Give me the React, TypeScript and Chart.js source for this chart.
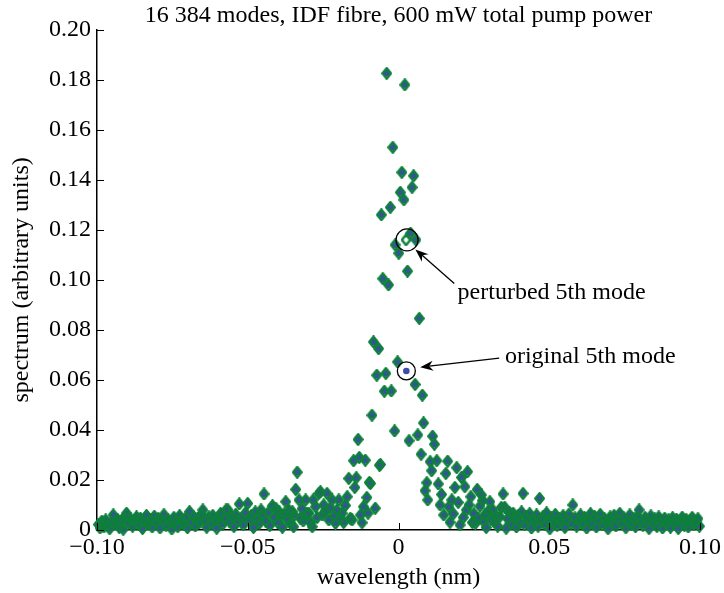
import React, { useEffect, useRef } from "react";
import { Chart, registerables } from "chart.js";

Chart.register(...registerables);

// ---- data ----
const titleText = "16 384 modes, IDF fibre, 600 mW total pump power";
const xAxisTitle = "wavelength (nm)";
const yAxisTitle = "spectrum (arbitrary units)";

const xTickValues = [-0.1, -0.05, 0, 0.05, 0.1];
const xTickLabels = ["\u22120.10", "\u22120.05", "0", "0.05", "0.10"];
const yTickValues = [0, 0.02, 0.04, 0.06, 0.08, 0.1, 0.12, 0.14, 0.16, 0.18, 0.2];
const yTickLabels = ["0", "0.02", "0.04", "0.06", "0.08", "0.10", "0.12", "0.14", "0.16", "0.18", "0.20"];

// wavelength (nm) of every mode except the 5th
const modeWavelength = [
  -0.0995, -0.0990, -0.0984, -0.0977, -0.0971, -0.0964, -0.0958, -0.0951, -0.0946, -0.0939,
  -0.0932, -0.0926, -0.0919, -0.0913, -0.0907, -0.0902, -0.0895, -0.0888, -0.0882, -0.0875,
  -0.0869, -0.0862, -0.0856, -0.0849, -0.0843, -0.0836, -0.0830, -0.0823, -0.0817, -0.0810,
  -0.0804, -0.0797, -0.0791, -0.0784, -0.0778, -0.0771, -0.0765, -0.0758, -0.0752, -0.0745,
  -0.0739, -0.0732, -0.0726, -0.0719, -0.0713, -0.0706, -0.0700, -0.0693, -0.0687, -0.0680,
  -0.0674, -0.0667, -0.0661, -0.0654, -0.0649, -0.0642, -0.0636, -0.0629, -0.0622, -0.0616,
  -0.0609, -0.0603, -0.0596, -0.0590, -0.0583, -0.0577, -0.0572, -0.0566, -0.0559, -0.0553,
  -0.0546, -0.0540, -0.0533, -0.0528, -0.0521, -0.0515, -0.0508, -0.0500, -0.0494, -0.0488,
  -0.0481, -0.0475, -0.0468, -0.0462, -0.0456, -0.0451, -0.0446, -0.0440, -0.0433, -0.0427,
  -0.0418, -0.0412, -0.0407, -0.0401, -0.0396, -0.0390, -0.0385, -0.0379, -0.0374, -0.0368,
  -0.0363, -0.0358, -0.0352, -0.0348, -0.0346, -0.0341, -0.0336, -0.0330, -0.0326, -0.0320,
  -0.0316, -0.0308, -0.0303, -0.0297, -0.0292, -0.0286, -0.0283, -0.0275, -0.0270, -0.0264,
  -0.0259, -0.0253, -0.0248, -0.0243, -0.0237, -0.0231, -0.0226, -0.0220, -0.0214, -0.0209,
  -0.0204, -0.0198, -0.0192, -0.0187, -0.0182, -0.0176, -0.0170, -0.0165, -0.0160, -0.0154,
  -0.0149, -0.0145, -0.0140, -0.0134, -0.0130, -0.0126, -0.0121, -0.0116, -0.0110, -0.0105,
  -0.0101, -0.0097, -0.0093, -0.0088, -0.0083, -0.0077, -0.0072, -0.0066, -0.0063, -0.0060,
  -0.0057, -0.0052, -0.0047, -0.0042, -0.0039, -0.0033, -0.0027, -0.0024, -0.0019, -0.0013,
  -0.0011, -0.0003, 0.0001, 0.0006, 0.0011, 0.0018, 0.0021, 0.0030, 0.0035, 0.0040,
  0.0045, 0.0050, 0.0055, 0.0058, 0.0064, 0.0069, 0.0075, 0.0079, 0.0083, 0.0088,
  0.0094, 0.0097, 0.0105, 0.0110, 0.0113, 0.0119, 0.0127, 0.0132, 0.0138, 0.0143,
  0.0150, 0.0157, 0.0163, 0.0167, 0.0171, 0.0177, 0.0182, 0.0187, 0.0193, 0.0198,
  0.0204, 0.0209, 0.0215, 0.0220, 0.0225, 0.0229, 0.0234, 0.0240, 0.0245, 0.0250,
  0.0255, 0.0261, 0.0264, 0.0270, 0.0275, 0.0279, 0.0281, 0.0286, 0.0291, 0.0297,
  0.0303, 0.0308, 0.0313, 0.0319, 0.0324, 0.0329, 0.0336, 0.0341, 0.0347, 0.0352,
  0.0357, 0.0362, 0.0368, 0.0374, 0.0380, 0.0386, 0.0391, 0.0397, 0.0402, 0.0408,
  0.0413, 0.0418, 0.0424, 0.0430, 0.0435, 0.0441, 0.0447, 0.0452, 0.0458, 0.0463,
  0.0468, 0.0474, 0.0480, 0.0485, 0.0491, 0.0497, 0.0502, 0.0508, 0.0514, 0.0520,
  0.0526, 0.0533, 0.0539, 0.0546, 0.0552, 0.0559, 0.0565, 0.0572, 0.0578, 0.0585,
  0.0591, 0.0598, 0.0604, 0.0611, 0.0617, 0.0624, 0.0630, 0.0637, 0.0643, 0.0650,
  0.0656, 0.0663, 0.0669, 0.0676, 0.0682, 0.0689, 0.0695, 0.0702, 0.0708, 0.0715,
  0.0721, 0.0728, 0.0734, 0.0741, 0.0747, 0.0754, 0.0760, 0.0767, 0.0773, 0.0780,
  0.0786, 0.0793, 0.0798, 0.0805, 0.0811, 0.0818, 0.0824, 0.0831, 0.0837, 0.0844,
  0.0850, 0.0857, 0.0863, 0.0870, 0.0876, 0.0883, 0.0889, 0.0896, 0.0902, 0.0909,
  0.0915, 0.0922, 0.0928, 0.0935, 0.0941, 0.0948, 0.0954, 0.0961, 0.0967, 0.0974,
  0.0980, 0.0987, 0.0993, 0.0998,
];

// spectrum of every mode except the 5th (identical in both runs)
const modeSpectrum = [
  0.0022, 0.0008, 0.0035, 0.0012, 0.0040, 0.0018, 0.0005, 0.0032, 0.0060, 0.0025,
  0.0042, 0.0010, 0.0038, 0.0003, 0.0050, 0.0067, 0.0028, 0.0044, 0.0015, 0.0036,
  0.0052, 0.0020, 0.0047, 0.0006, 0.0033, 0.0058, 0.0024, 0.0041, 0.0012, 0.0055,
  0.0030, 0.0046, 0.0008, 0.0038, 0.0061, 0.0019, 0.0043, 0.0027, 0.0004, 0.0050,
  0.0035, 0.0013, 0.0057, 0.0040, 0.0022, 0.0048, 0.0009, 0.0073, 0.0031, 0.0054,
  0.0016, 0.0045, 0.0029, 0.0062, 0.0080, 0.0037, 0.0011, 0.0052, 0.0026, 0.0058,
  0.0040, 0.0007, 0.0049, 0.0066, 0.0023, 0.0044, 0.0080, 0.0081, 0.0032, 0.0055,
  0.0014, 0.0063, 0.0036, 0.0104, 0.0047, 0.0020, 0.0068, 0.0106, 0.0039, 0.0058,
  0.0010, 0.0072, 0.0044, 0.0026, 0.0080, 0.0061, 0.0144, 0.0035, 0.0068, 0.0018,
  0.0097, 0.0050, 0.0087, 0.0030, 0.0073, 0.0055, 0.0011, 0.0064, 0.0113, 0.0042,
  0.0078, 0.0026, 0.0073, 0.0013, 0.0058, 0.0162, 0.0231, 0.0120, 0.0047, 0.0085,
  0.0036, 0.0120, 0.0066, 0.0067, 0.0029, 0.0013, 0.0120, 0.0093, 0.0050, 0.0146,
  0.0153, 0.0060, 0.0100, 0.0075, 0.0146, 0.0040, 0.0088, 0.0120, 0.0055, 0.0027,
  0.0080, 0.0120, 0.0045, 0.0067, 0.0030, 0.0098, 0.0133, 0.0206, 0.0047, 0.0040,
  0.0277, 0.0170, 0.0209, 0.0362, 0.0290, 0.0060, 0.0029, 0.0093, 0.0279, 0.0130,
  0.0067, 0.0190, 0.0186, 0.0459, 0.0752, 0.0087, 0.0619, 0.0725, 0.0259, 0.0262,
  0.1260, 0.1005, 0.0555, 0.0626, 0.1826, 0.0980, 0.1290, 0.0556, 0.1530, 0.0396,
  0.1140, 0.0672, 0.1107, 0.1350, 0.1430, 0.1320, 0.1780, 0.1035, 0.0357, 0.1187,
  0.1370, 0.1416, 0.0582, 0.1160, 0.0380, 0.0846, 0.0303, 0.0539, 0.0428, 0.0157,
  0.0189, 0.0120, 0.0273, 0.0237, 0.0375, 0.0343, 0.0277, 0.0184, 0.0100, 0.0142,
  0.0060, 0.0226, 0.0275, 0.0093, 0.0031, 0.0120, 0.0065, 0.0170, 0.0249, 0.0110,
  0.0020, 0.0210, 0.0050, 0.0173, 0.0080, 0.0233, 0.0100, 0.0133, 0.0030, 0.0065,
  0.0027, 0.0162, 0.0047, 0.0095, 0.0140, 0.0118, 0.0035, 0.0060, 0.0010, 0.0075,
  0.0113, 0.0040, 0.0080, 0.0033, 0.0055, 0.0015, 0.0053, 0.0090, 0.0144, 0.0091,
  0.0007, 0.0045, 0.0070, 0.0025, 0.0067, 0.0040, 0.0012, 0.0058, 0.0030, 0.0072,
  0.0146, 0.0020, 0.0052, 0.0038, 0.0065, 0.0008, 0.0047, 0.0028, 0.0060, 0.0015,
  0.0126, 0.0042, 0.0055, 0.0022, 0.0068, 0.0035, 0.0005, 0.0050, 0.0027, 0.0062,
  0.0018, 0.0045, 0.0030, 0.0057, 0.0010, 0.0040, 0.0063, 0.0024, 0.0100, 0.0048,
  0.0015, 0.0037, 0.0060, 0.0022, 0.0050, 0.0008, 0.0043, 0.0065, 0.0027, 0.0055,
  0.0012, 0.0040, 0.0062, 0.0020, 0.0047, 0.0030, 0.0005, 0.0052, 0.0035, 0.0058,
  0.0016, 0.0042, 0.0066, 0.0025, 0.0049, 0.0009, 0.0037, 0.0060, 0.0022, 0.0045,
  0.0013, 0.0054, 0.0080, 0.0032, 0.0018, 0.0050, 0.0038, 0.0006, 0.0056, 0.0027,
  0.0044, 0.0014, 0.0052, 0.0033, 0.0008, 0.0047, 0.0024, 0.0040, 0.0011, 0.0049,
  0.0028, 0.0043, 0.0006, 0.0036, 0.0051, 0.0019, 0.0042, 0.0012, 0.0038, 0.0050,
  0.0022, 0.0033, 0.0045, 0.0015,
];

// the 5th mode: original and perturbed
const original5thMode = { x: 0.0026, y: 0.0636 };
const perturbed5thMode = { x: 0.0025, y: 0.1160 };

// annotation texts and anchors (data units)
const perturbedLabel = { text: "perturbed 5th mode", x: 0.0196, y: 0.0950 };
const originalLabel = { text: "original 5th mode", x: 0.0353, y: 0.0693 };
const perturbedArrow = { fromX: 0.0185, fromY: 0.0986, toX: 0.0056, toY: 0.1122 };
const originalArrow = { fromX: 0.0334, fromY: 0.0687, toX: 0.0072, toY: 0.0651 };

// ---- styles ----
const GREEN = "#0f803c";
const BLUE = "#3a4ea6";
const FONT = "'Liberation Serif', 'Times New Roman', serif";
const FS = 24;

function makeDiamond(): HTMLCanvasElement {
  const c = document.createElement("canvas");
  c.width = 11;
  c.height = 13;
  const g = c.getContext("2d")!;
  g.strokeStyle = GREEN;
  g.lineWidth = 2.5;
  g.lineJoin = "round";
  g.beginPath();
  g.moveTo(5.5, 1.3);
  g.lineTo(9.7, 6.5);
  g.lineTo(5.5, 11.7);
  g.lineTo(1.3, 6.5);
  g.closePath();
  g.stroke();
  return c;
}

function drawArrow(ctx: CanvasRenderingContext2D, x1: number, y1: number, x2: number, y2: number) {
  const ang = Math.atan2(y2 - y1, x2 - x1);
  const headLen = 13;
  const headW = 5;
  const notch = 9;
  ctx.beginPath();
  ctx.moveTo(x1, y1);
  ctx.lineTo(x2 - Math.cos(ang) * notch, y2 - Math.sin(ang) * notch);
  ctx.stroke();
  const bx = x2 - Math.cos(ang) * headLen;
  const by = y2 - Math.sin(ang) * headLen;
  const nx = x2 - Math.cos(ang) * notch;
  const ny = y2 - Math.sin(ang) * notch;
  const px = -Math.sin(ang) * headW;
  const py = Math.cos(ang) * headW;
  ctx.beginPath();
  ctx.moveTo(x2, y2);
  ctx.lineTo(bx + px, by + py);
  ctx.lineTo(nx, ny);
  ctx.lineTo(bx - px, by - py);
  ctx.closePath();
  ctx.fill();
}

const annotationPlugin = {
  id: "annotations",
  afterDatasetsDraw(chart: any) {
    const { ctx, chartArea } = chart;
    const xs = chart.scales.x;
    const ys = chart.scales.y;
    ctx.save();
    ctx.strokeStyle = "#000";
    ctx.fillStyle = "#000";
    // inward tick marks
    ctx.lineWidth = 1;
    xs.ticks.forEach((t: any) => {
      const p = Math.round(xs.getPixelForValue(t.value)) + 0.5;
      ctx.beginPath();
      ctx.moveTo(p, chartArea.bottom);
      ctx.lineTo(p, chartArea.bottom - 7);
      ctx.stroke();
    });
    ys.ticks.forEach((t: any) => {
      const p = Math.round(ys.getPixelForValue(t.value)) + 0.5;
      ctx.beginPath();
      ctx.moveTo(chartArea.left, p);
      ctx.lineTo(chartArea.left + 7, p);
      ctx.stroke();
    });
    // circles
    ctx.lineWidth = 1.3;
    ctx.beginPath();
    ctx.arc(xs.getPixelForValue(perturbed5thMode.x) + 1, ys.getPixelForValue(perturbed5thMode.y), 11, 0, Math.PI * 2);
    ctx.stroke();
    ctx.beginPath();
    ctx.arc(xs.getPixelForValue(original5thMode.x), ys.getPixelForValue(original5thMode.y), 9, 0, Math.PI * 2);
    ctx.stroke();
    // arrows
    ctx.lineWidth = 1.3;
    for (const a of [perturbedArrow, originalArrow]) {
      drawArrow(ctx, xs.getPixelForValue(a.fromX), ys.getPixelForValue(a.fromY), xs.getPixelForValue(a.toX), ys.getPixelForValue(a.toY));
    }
    // labels
    ctx.font = `${FS}px ${FONT}`;
    ctx.textAlign = "left";
    ctx.textBaseline = "middle";
    for (const l of [perturbedLabel, originalLabel]) {
      ctx.fillText(l.text, xs.getPixelForValue(l.x), ys.getPixelForValue(l.y));
    }
    ctx.restore();
  },
};

export default function App() {
  const canvasRef = useRef<HTMLCanvasElement | null>(null);

  useEffect(() => {
    const canvas = canvasRef.current;
    if (!canvas) return;
    const n = Math.min(modeWavelength.length, modeSpectrum.length);
    const shared = [] as { x: number; y: number }[];
    for (let i = 0; i < n; i++) shared.push({ x: modeWavelength[i], y: modeSpectrum[i] });
    const originalData = [...shared, original5thMode];
    const perturbedData = [...shared, perturbed5thMode];
    const diamond = makeDiamond();

    const chart = new Chart(canvas, {
      type: "scatter",
      data: {
        datasets: [
          {
            label: "perturbed",
            data: perturbedData,
            pointStyle: diamond as any,
            pointRadius: 5,
            showLine: false,
            clip: false as any,
          },
          {
            label: "original",
            data: originalData,
            pointStyle: "circle",
            pointRadius: 3.3,
            backgroundColor: BLUE,
            borderWidth: 0,
            showLine: false,
            clip: false as any,
          },
        ],
      },
      options: {
        animation: false,
        responsive: false,
        events: [],
        layout: { padding: { left: 0, right: 21, top: 0, bottom: 0 } },
        plugins: {
          legend: { display: false },
          tooltip: { enabled: false },
          title: {
            display: true,
            text: titleText,
            fullSize: false,
            color: "#000",
            font: { family: FONT, size: FS, weight: "normal" as any },
            padding: { top: 1, bottom: 0 },
          },
        },
        scales: {
          x: {
            type: "linear",
            min: -0.1,
            max: 0.1,
            afterBuildTicks: (scale: any) => {
              scale.ticks = xTickValues.map((v) => ({ value: v }));
            },
            afterFit: (scale: any) => {
              scale.height = 63;
            },
            grid: { display: true, drawOnChartArea: false, drawTicks: false },
            border: { display: true, color: "#000", width: 1.5 },
            ticks: {
              color: "#000",
              padding: 3,
              maxRotation: 0,
              autoSkip: false,
              font: { family: FONT, size: FS },
              callback: (_v: any, i: number) => xTickLabels[i],
            },
            title: {
              display: true,
              text: xAxisTitle,
              color: "#000",
              font: { family: FONT, size: FS },
              padding: { top: 0, bottom: 1 },
            },
          },
          y: {
            type: "linear",
            min: 0,
            max: 0.2,
            afterBuildTicks: (scale: any) => {
              scale.ticks = yTickValues.map((v) => ({ value: v }));
            },
            afterFit: (scale: any) => {
              scale.width = 97;
            },
            grid: { display: true, drawOnChartArea: false, drawTicks: false },
            border: { display: true, color: "#000", width: 1.5 },
            ticks: {
              color: "#000",
              padding: 6,
              autoSkip: false,
              font: { family: FONT, size: FS },
              callback: (_v: any, i: number) => yTickLabels[i],
            },
            title: {
              display: true,
              text: yAxisTitle,
              color: "#000",
              font: { family: FONT, size: FS },
              padding: { top: 7, bottom: 0 },
            },
          },
        },
      },
      plugins: [annotationPlugin],
    });
    return () => chart.destroy();
  }, []);

  return (
    <div style={{ position: "absolute", left: 0, top: 0, width: 724, height: 593, background: "#fff" }}>
      <canvas ref={canvasRef} width={724} height={593} />
    </div>
  );
}
